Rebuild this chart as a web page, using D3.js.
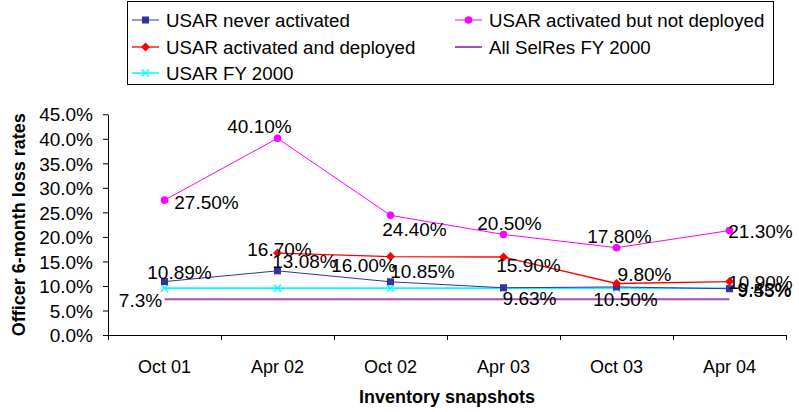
<!DOCTYPE html>
<html><head><meta charset="utf-8">
<script src="https://cdn.jsdelivr.net/npm/d3@7"></script>
<style>body{margin:0;background:#fff}svg{display:block}text{font-family:Arial,"Liberation Sans",sans-serif;fill:#000}</style>
</head><body><svg id="c" width="799" height="412"></svg>
<script>
const categories = ["Oct 01","Apr 02","Oct 02","Apr 03","Oct 03","Apr 04"];
const neverActivated = [10.89, 13.08, 10.85, 9.63, 9.80, 9.43];
const activatedNotDeployed = [27.50, 40.10, 24.40, 20.50, 17.80, 21.30];
const activatedDeployed = [null, 16.70, 16.00, 15.90, 10.50, 10.90];
const allSelRes2000 = [7.3, 7.3, 7.3, 7.3, 7.3, 7.3];
const usar2000 = [9.55, 9.55, 9.55, 9.55, 9.55, 9.55];
const yTicks = [0,5,10,15,20,25,30,35,40,45];

// label offsets (px) relative to each point; null = no label
const offNever = [[15,-9],[27,-9],[32,-10],[26,11],[28,-12],[35,1]];
const offNotDep = [[42,2],[-18,-12],[24,14],[6,-11],[3,-11],[31,1]];
const offDep = [null,[2,-4],[-27,9],[25,8],[9,16],[31,1]];
const offSel = [[-24,1],null,null,null,null,null];
const offUsar = [null,null,null,null,null,[35,2]];

const series = [
  {name:"USAR never activated", values:neverActivated, color:"#333399", width:1, marker:"square", off:offNever, fmt:d=>d.toFixed(2)+"%"},
  {name:"USAR activated but not deployed", values:activatedNotDeployed, color:"#FF00FF", width:1, marker:"circle", off:offNotDep, fmt:d=>d.toFixed(2)+"%"},
  {name:"USAR activated and deployed", values:activatedDeployed, color:"#FF0000", width:1.3, marker:"diamond", off:offDep, fmt:d=>d.toFixed(2)+"%"},
  {name:"All SelRes FY 2000", values:allSelRes2000, color:"#A052B0", width:2, marker:null, off:offSel, fmt:d=>d.toFixed(1)+"%"},
  {name:"USAR FY 2000", values:usar2000, color:"#00FFFF", width:1.6, marker:"x", off:offUsar, fmt:d=>d.toFixed(2)+"%"}
];

const svg = d3.select("#c");
const L = 108, R = 786, T = 114.3, B = 335;
const xIdx = d3.scaleLinear().domain([0, categories.length]).range([L, R]);
const xBand = d3.scaleBand().domain(categories).range([L, R]);
const xc = i => xBand(categories[i]) + xBand.bandwidth()/2;
const y = d3.scaleLinear().domain([0,45]).range([B, T]);

// axes
const ya = svg.append("g").attr("transform",`translate(${L},0)`)
  .call(d3.axisLeft(y).tickValues(yTicks).tickFormat(d=>d.toFixed(1)+"%").tickSize(5).tickSizeOuter(0));
ya.selectAll("text").attr("font-size",19).attr("x",-15).attr("dy","0.35em");
ya.selectAll("line,path").attr("stroke","#000");

const xa = svg.append("g").attr("transform",`translate(0,${B})`)
  .call(d3.axisBottom(xIdx).tickValues(d3.range(categories.length+1)).tickFormat("").tickSize(5).tickSizeOuter(0));
xa.selectAll("line,path").attr("stroke","#000");
const xl = svg.append("g").attr("transform",`translate(0,${B})`)
  .call(d3.axisBottom(xBand).tickSize(0));
xl.select("path").remove();
xl.selectAll("text").attr("font-size",18).attr("y",32).attr("dy","0.35em");

svg.append("text").attr("x",(L+R)/2).attr("y",397).attr("text-anchor","middle").attr("dominant-baseline","central")
  .attr("font-size",18).attr("font-weight","bold").text("Inventory snapshots");
svg.append("text").attr("transform",`translate(19,${(T+B)/2}) rotate(-90)`).attr("text-anchor","middle").attr("dominant-baseline","central")
  .attr("font-size",18).attr("font-weight","bold").text("Officer 6-month loss rates");

function drawMarker(g, type, color, cx, cy){
  if(type==="square") g.append("rect").attr("x",cx-3.5).attr("y",cy-3.5).attr("width",7).attr("height",7).attr("fill",color);
  else if(type==="circle") g.append("circle").attr("cx",cx).attr("cy",cy).attr("r",3.8).attr("fill",color);
  else if(type==="diamond") g.append("path").attr("d",`M${cx},${cy-4.5}L${cx+4.5},${cy}L${cx},${cy+4.5}L${cx-4.5},${cy}Z`).attr("fill",color);
  else if(type==="x") g.append("path").attr("d",`M${cx-3.5},${cy-3.5}L${cx+3.5},${cy+3.5}M${cx-3.5},${cy+3.5}L${cx+3.5},${cy-3.5}`).attr("stroke",color).attr("stroke-width",1.4).attr("fill","none");
}

const drawOrder = [3,4,0,2,1];
drawOrder.forEach(si=>{
  const s = series[si];
  const pts = s.values.map((v,i)=>({v,i})).filter(p=>p.v!=null);
  svg.append("path").datum(pts)
    .attr("d", d3.line().x(p=>xc(p.i)).y(p=>y(p.v)))
    .attr("fill","none").attr("stroke",s.color).attr("stroke-width",s.width);
  if(s.marker){
    const g = svg.append("g");
    pts.forEach(p=>drawMarker(g, s.marker, s.color, xc(p.i), y(p.v)));
  }
});
// labels
drawOrder.forEach(si=>{
  const s = series[si];
  s.values.forEach((v,i)=>{
    if(v==null || !s.off[i]) return;
    svg.append("text").attr("x",xc(i)+s.off[i][0]).attr("y",y(v)+s.off[i][1])
      .attr("text-anchor","middle").attr("dominant-baseline","central")
      .attr("font-size",19).text(s.fmt(v));
  });
});

// legend
const lg = svg.append("g");
lg.append("rect").attr("x",127.5).attr("y",1.5).attr("width",646).attr("height",83).attr("fill","#fff").attr("stroke","#000").attr("stroke-width",1);
const legPos = [[132,20],[455,20],[132,47],[455,47],[132,73]];
series.forEach((s,k)=>{
  const [lx,ly] = legPos[k];
  lg.append("line").attr("x1",lx).attr("x2",lx+27).attr("y1",ly).attr("y2",ly).attr("stroke",s.color).attr("stroke-width",s.width);
  if(s.marker) drawMarker(lg, s.marker, s.color, lx+13.5, ly);
  lg.append("text").attr("x",lx+34).attr("y",ly).attr("dominant-baseline","central").attr("font-size",18.7).text(s.name);
});
</script></body></html>
